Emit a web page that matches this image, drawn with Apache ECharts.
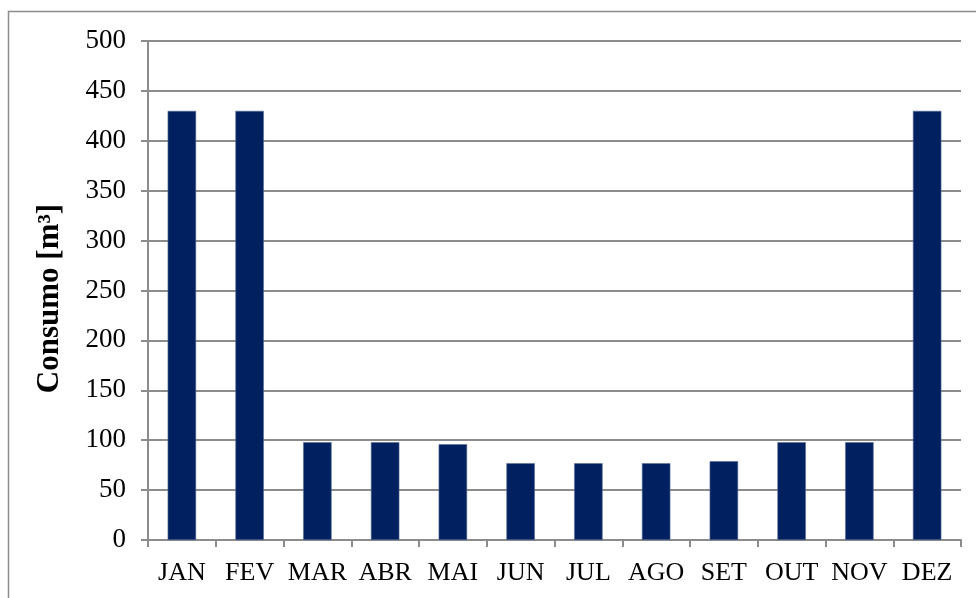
<!DOCTYPE html>
<html>
<head>
<meta charset="utf-8">
<script src="https://cdn.jsdelivr.net/npm/echarts@6/dist/echarts.min.js"></script>
<style>
  html, body { margin: 0; padding: 0; background: #ffffff; }
  #chart { width: 976px; height: 598px; }
</style>
</head>
<body>
<div id="chart"></div>
<script>
// Monthly consumption
const months = ['JAN', 'FEV', 'MAR', 'ABR', 'MAI', 'JUN', 'JUL', 'AGO', 'SET', 'OUT', 'NOV', 'DEZ'];
const consumo = [430, 430, 98, 98, 96, 77, 77, 77, 79, 98, 98, 430];
const yTitle = 'Consumo [m³]';

const serif = '"Liberation Serif", "DejaVu Serif", serif';
const gray = '#8c8c8c';

const chart = echarts.init(document.getElementById('chart'), null, { renderer: 'canvas' });
chart.setOption({
  animation: false,
  backgroundColor: '#ffffff',
  graphic: [{
    type: 'rect',
    shape: { x: 8.5, y: 11.5, width: 1000, height: 700 },
    style: { fill: 'none', stroke: gray, lineWidth: 1.5 },
    silent: true
  }],
  grid: { left: 148, right: 15, top: 41, bottom: 58, containLabel: false },
  xAxis: {
    type: 'category',
    data: months,
    axisLine: { lineStyle: { color: gray, width: 2 } },
    axisTick: { show: true, length: 7, lineStyle: { color: gray, width: 2 } },
    axisLabel: { color: '#000', fontFamily: serif, fontSize: 26, margin: 20, interval: 0 }
  },
  yAxis: {
    type: 'value',
    min: 0, max: 500, interval: 50,
    name: yTitle,
    nameLocation: 'middle',
    nameGap: 83,
    nameTextStyle: { color: '#000', fontFamily: serif, fontSize: 31, fontWeight: 'bold', padding: [0, 16, 0, 0] },
    axisLine: { show: true, lineStyle: { color: gray, width: 2 } },
    axisTick: { show: true, length: 7, lineStyle: { color: gray, width: 2 } },
    axisLabel: { color: '#000', fontFamily: serif, fontSize: 27, margin: 22 },
    splitLine: { lineStyle: { color: gray, width: 2 } }
  },
  series: [{
    type: 'bar',
    data: consumo,
    barWidth: '42%',
    itemStyle: { color: '#002060', borderColor: '#5b6f96', borderWidth: 0.6 }
  }]
});
</script>
</body>
</html>
